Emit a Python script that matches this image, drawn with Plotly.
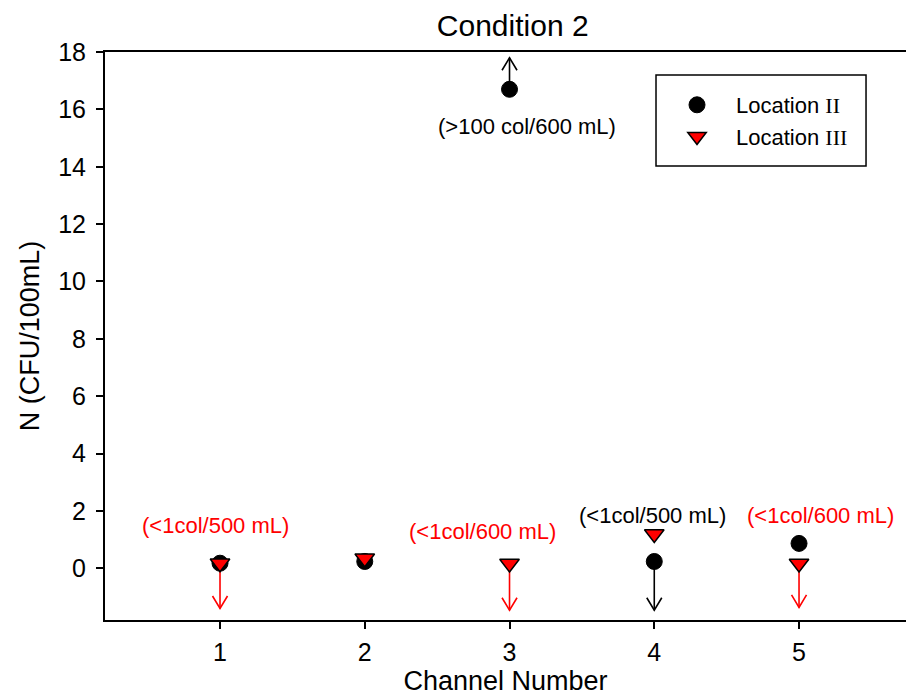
import plotly.graph_objects as go

# Channel numbers and measured counts
channels = [1, 2, 3, 4, 5]
loc2_values = [0.18, 0.24, 16.7, 0.24, 0.87]
loc3_values = [0.18, 0.35, 0.17, 1.2, 0.17]

# Detection-limit arrows: channel, start value, tip value, colour
arrow_channels = [1, 3, 4, 5, 3]
arrow_start = [0.18, 0.17, 0.24, 0.17, 16.7]
arrow_tip = [-1.40, -1.46, -1.46, -1.36, 17.8]
arrow_colors = ["red", "red", "black", "red", "black"]

# Note labels beside the points
note_texts = ["(>100 col/600 mL)", "(<1col/500 mL)", "(<1col/600 mL)",
              "(<1col/500 mL)", "(<1col/600 mL)"]
note_x = [3.12, 0.97, 2.81, 3.985, 5.15]
note_y = [15.42, 1.5, 1.29, 1.85, 1.85]
note_colors = ["black", "red", "red", "black", "red"]

FONT = "Liberation Sans, Arial, sans-serif"
SERIF = "Liberation Serif, Times New Roman, serif"

X_RANGE = [0.2055, 5.739]
Y_RANGE = [-1.8, 18]
PLOT_W, PLOT_H = 801, 568  # plot area in pixels
HEAD_HALF_W = 7.5 / (PLOT_W / (X_RANGE[1] - X_RANGE[0]))
HEAD_LEN = 12.5 / (PLOT_H / (Y_RANGE[1] - Y_RANGE[0]))

fig = go.Figure()

# Arrow shafts and open chevron heads, one line trace per colour
for colour in ["red", "black"]:
    xs, ys = [], []
    for cx, y0, y1, col in zip(arrow_channels, arrow_start, arrow_tip, arrow_colors):
        if col != colour:
            continue
        back = HEAD_LEN if y1 < y0 else -HEAD_LEN
        xs += [cx, cx, None, cx - HEAD_HALF_W, cx, cx + HEAD_HALF_W, None]
        ys += [y0, y1, None, y1 + back, y1, y1 + back, None]
    fig.add_trace(go.Scatter(
        x=xs, y=ys, mode="lines", showlegend=False, hoverinfo="skip",
        line=dict(color=colour, width=1.6),
    ))

fig.add_trace(go.Scatter(
    x=channels, y=loc2_values, mode="markers",
    name=f'Location <span style="font-family:{SERIF}">II</span>',
    legendgroup="a",
    marker=dict(symbol="circle", size=16, color="black",
                line=dict(color="black", width=1)),
))
fig.add_trace(go.Scatter(
    x=channels, y=loc3_values, mode="markers",
    name=f'Location <span style="font-family:{SERIF}">III</span>',
    legendgroup="b",
    marker=dict(symbol="triangle-down", size=17, color="red",
                line=dict(color="black", width=1.5)),
))

for t, nx, ny, col in zip(note_texts, note_x, note_y, note_colors):
    fig.add_annotation(
        x=nx, y=ny, xref="x", yref="y", text=t, showarrow=False,
        font=dict(family=FONT, size=22, color=col),
        xanchor="center", yanchor="middle",
    )

# Legend frame
fig.add_shape(type="rect", xref="paper", yref="paper",
              x0=0.6879, x1=0.9501, y0=0.7993, y1=0.9595,
              line=dict(color="black", width=1.5), fillcolor="rgba(0,0,0,0)")

fig.update_layout(
    width=906, height=696,
    margin=dict(l=105, r=0, t=52, b=76),
    paper_bgcolor="white", plot_bgcolor="white",
    font=dict(family=FONT, size=21, color="black"),
    title=dict(text="Condition 2", x=0.509, xref="paper", xanchor="center",
               y=1 - 25 / 696, yref="container", yanchor="middle",
               font=dict(family=FONT, size=30, color="black")),
    showlegend=True,
    legend=dict(x=0.6904, y=0.8785, xanchor="left", yanchor="middle",
                bgcolor="rgba(0,0,0,0)", borderwidth=0,
                font=dict(family=FONT, size=22, color="black"),
                itemwidth=68, tracegroupgap=0),
)
fig.update_xaxes(
    range=X_RANGE, tickmode="array", tickvals=channels,
    ticktext=[str(c) for c in channels],
    ticks="outside", ticklen=7, tickwidth=1.5, tickcolor="black",
    showline=True, linecolor="black", linewidth=2, mirror=True,
    showgrid=False, zeroline=False, automargin=False, ticklabelstandoff=2,
    tickfont=dict(family=FONT, size=25, color="black"),
    title=dict(text="Channel Number", standoff=10,
               font=dict(family=FONT, size=27)),
)
fig.update_yaxes(
    range=Y_RANGE, tickmode="array", tickvals=list(range(0, 19, 2)),
    ticktext=[str(v) for v in range(0, 19, 2)],
    ticks="outside", ticklen=7, tickwidth=1.5, tickcolor="black",
    showline=True, linecolor="black", linewidth=2, mirror=False,
    showgrid=False, zeroline=False, automargin=False, ticklabelstandoff=5,
    tickfont=dict(family=FONT, size=25, color="black"),
    title=dict(text="N (CFU/100mL)", standoff=11,
               font=dict(family=FONT, size=27)),
)

fig.write_html("out.html")
